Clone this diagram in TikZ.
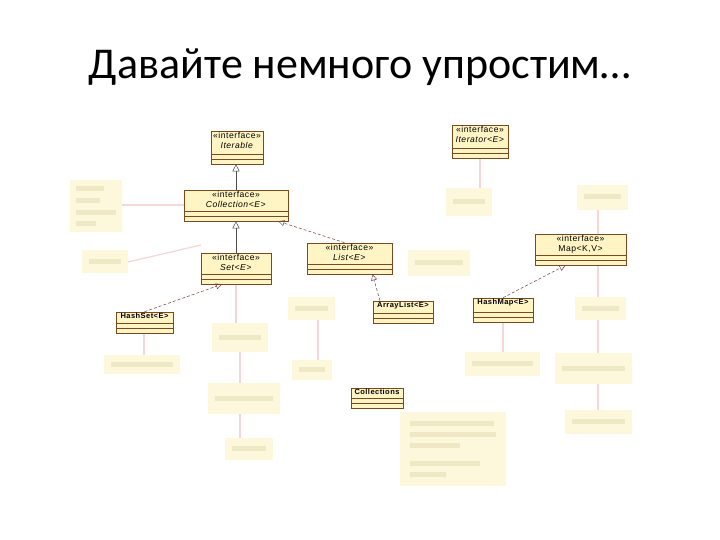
\documentclass[tikz,border=0pt]{standalone}
\usepackage{fontspec}
\setmainfont{Carlito}
\newfontfamily\umlfont[LetterSpace=6]{Liberation Sans}
\usetikzlibrary{positioning,arrows.meta}
\definecolor{umlfill}{HTML}{FFF5C4}
\definecolor{umldraw}{HTML}{7A4A1E}
\definecolor{umlarrow}{HTML}{7A3A3A}
\definecolor{blurfill}{HTML}{FDF8DC}
\definecolor{blurtext}{HTML}{EFE8C4}
\definecolor{blurline}{HTML}{F6D6D6}
\tikzset{
  umlbox/.style={draw=umldraw, fill=umlfill, line width=0.6pt, inner sep=0pt},
  umlhead/.style={inner sep=1pt, align=center, font=\umlfont\fontsize{8.6}{10}\selectfont},
  umlname/.style={inner sep=1.5pt, font=\umlfont\bfseries\fontsize{7.5}{9}\selectfont},
  gen/.style={draw=black!70, line width=0.5pt, -{Triangle[open, length=7pt, width=7pt]}},
  real/.style={draw=umlarrow, line width=0.5pt, dashed, dash pattern=on 3pt off 2pt, -{Triangle[open, length=6pt, width=6pt]}},
  blurbox/.style={fill=blurfill},
  blurbar/.style={fill=blurtext},
  blurconn/.style={draw=blurline, line width=1.2pt}
}
\begin{document}
\begin{tikzpicture}[x=1pt, y=-1pt]
  \useasboundingbox[fill=white] (0,0) rectangle (720,540);
  \node[font=\fontsize{44}{48}\selectfont] (title) at (360,67) {Давайте немного упростим…};

  \foreach \ax/\ay/\bx/\by in {480/158/480/188, 598/210/598/234, 105/205/184/205, 128/262/201/245,
      236/284/236/323, 144/333/144/355, 240/352/240/383, 240/414/240/438, 598/265/598/297,
      598/320/598/353, 598/384/598/410, 503/322/503/352, 318/320/318/360}
    \draw[blurconn] (\ax,\ay) -- (\bx,\by);
  \foreach \ax/\ay/\bx/\by in {82/250/128/273, 446/188/492/216, 577/185/628/210,
      408/250/470/276, 288/297/335/320, 292/360/332/380, 212/323/268/352, 208/383/280/414,
      225/438/273/460, 104/355/180/374, 465/352/540/376, 555/353/632/384, 575/297/626/320,
      565/410/632/434}
  {
    \fill[blurbox] (\ax,\ay) rectangle (\bx,\by);
    \fill[blurbar] ({\ax+7},{(\ay+\by)/2-3}) rectangle ({\bx-7},{(\ay+\by)/2+2});
  }
  \fill[blurbox] (70,180) rectangle (122,232);
  \foreach \ya/\xb in {186/104, 198/100, 210/116, 221/96}
    \fill[blurbar] (76,\ya) rectangle (\xb,{\ya+5});
  \fill[blurbox] (400,412) rectangle (506,486);
  \foreach \ya/\xb in {421/494, 432/496, 443/460, 461/480, 472/446}
    \fill[blurbar] (410,\ya) rectangle (\xb,{\ya+5});

  \node[umlbox, minimum width=52, minimum height=33] (iterable) at (237,147.5) {};
  \node[umlbox, minimum width=56, minimum height=33] (iterator) at (480,141.5) {};
  \node[umlbox, minimum width=104, minimum height=31] (coll) at (236,205.5) {};
  \node[umlbox, minimum width=70, minimum height=31] (set) at (236,268.5) {};
  \node[umlbox, minimum width=85, minimum height=31] (list) at (349.5,258.5) {};
  \node[umlbox, minimum width=91, minimum height=31] (map) at (580.5,249.5) {};
  \node[umlbox, minimum width=60, minimum height=22] (arraylist) at (403,312) {};
  \node[umlbox, minimum width=60, minimum height=24] (hashmap) at (503,310) {};
  \node[umlbox, minimum width=57, minimum height=21] (hashset) at (144.5,322.5) {};
  \node[umlbox, minimum width=52, minimum height=20] (colls) at (377,398) {};

  \foreach \b in {iterable,iterator,coll,set,list,map,arraylist,hashmap,hashset,colls}
  {
    \draw[umldraw, line width=0.6pt] ([yshift=5]\b.south west) -- ([yshift=5]\b.south east);
    \draw[umldraw, line width=0.6pt] ([yshift=10]\b.south west) -- ([yshift=10]\b.south east);
  }

  \node[umlhead, below=0pt of iterable.north] (iterablename) {«interface»\\\textit{Iterable}};
  \node[umlhead, below=0pt of iterator.north] (iteratorname) {«interface»\\\textit{Iterator<E>}};
  \node[umlhead, below=0pt of coll.north] (collname) {«interface»\\\textit{Collection<E>}};
  \node[umlhead, below=0pt of set.north] (setname) {«interface»\\\textit{Set<E>}};
  \node[umlhead, below=0pt of list.north] (listname) {«interface»\\\textit{List<E>}};
  \node[umlhead, below=0pt of map.north] (mapname) {«interface»\\Map<K,V>};
  \node[umlname, below=0pt of arraylist.north] (arraylistname) {ArrayList<E>};
  \node[umlname, below=0pt of hashmap.north] (hashmapname) {HashMap<E>};
  \node[umlname, below=0pt of hashset.north] (hashsetname) {HashSet<E>};
  \node[umlname, below=0pt of colls.north] (collsname) {Collections};

  \draw[gen] (coll.north) -- (coll.north |- iterable.south);
  \draw[gen] (set.north) -- (set.north |- coll.south);
  \draw[real] ([xshift=-5]list.north) -- ([xshift=-10]coll.south east);
  \draw[real] ([xshift=-23]arraylist.north) -- ([xshift=23]list.south);
  \draw[real] (hashmap.north) -- ([xshift=-15]map.south);
  \draw[real] (hashset.north) -- ([xshift=-14]set.south);
\end{tikzpicture}
\end{document}
